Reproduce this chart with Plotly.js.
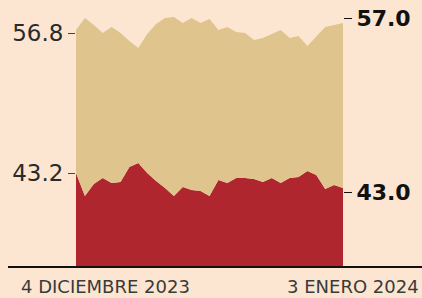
<!DOCTYPE html>
<html>
<head>
<meta charset="utf-8">
<script src="https://cdn.plot.ly/plotly-3.0.1.min.js"></script>
<style>html,body{margin:0;padding:0;background:#FCE6D2;}#chart{width:422px;height:298px;}</style>
</head>
<body>
<div id="chart"></div>
<script>
// Dates: 4 Dec 2023 .. 3 Jan 2024 (daily)
const startDate = '2023-12-04';
const endDate = '2024-01-03';
// Upper (tan) series top values as drawn
const tanValues = [57.09, 58.26, 57.58, 56.80, 57.38, 56.80, 56.02, 55.34, 56.70, 57.67,
  58.26, 58.35, 57.77, 58.26, 57.77, 58.16, 57.09, 57.38, 56.90, 56.80,
  56.12, 56.31, 56.70, 57.09, 56.31, 56.51, 55.54, 56.41, 57.38, 57.58, 57.77];
// Lower (red) series values as drawn
const redValues = [43.20, 40.97, 42.13, 42.71, 42.23, 42.33, 43.78, 44.17, 43.20, 42.42,
  41.74, 40.97, 41.84, 41.55, 41.45, 40.97, 42.52, 42.23, 42.71, 42.71,
  42.62, 42.33, 42.71, 42.23, 42.71, 42.81, 43.39, 43.01, 41.65, 42.03, 41.74];
// Tick labels
const leftTickVals = [56.8, 43.2];
const leftTickText = ['56.8', '43.2'];
const rightTickVals = [58.26, 41.35];
const rightTickText = ['57.0', '43.0'];
const startLabel = '4 DICIEMBRE 2023';
const endLabel = '3 ENERO 2024';

const dates = [];
{
  const d0 = new Date(startDate + 'T00:00:00Z');
  for (let i = 0; i < redValues.length; i++) {
    const d = new Date(d0.getTime() + i * 86400000);
    dates.push(d.toISOString().slice(0, 10));
  }
}

const BG = '#FCE6D2';
const TAN = '#DFC48D';
const RED = '#AF262E';
const yRange = [34.07, 60.01];

const traces = [
  {x: dates, y: redValues, type: 'scatter', mode: 'lines', fill: 'tozeroy',
   fillcolor: RED, line: {width: 0, color: RED}, hoverinfo: 'skip'},
  {x: dates, y: tanValues, type: 'scatter', mode: 'lines', fill: 'tonexty',
   fillcolor: TAN, line: {width: 0, color: TAN}, hoverinfo: 'skip'},
  {x: [dates[0]], y: [50], yaxis: 'y2', type: 'scatter', mode: 'markers',
   marker: {opacity: 0}, hoverinfo: 'skip'}
];

const layout = {
  width: 422, height: 298,
  margin: {l: 76, r: 79, t: 0, b: 31},
  paper_bgcolor: BG, plot_bgcolor: BG,
  showlegend: false,
  xaxis: {type: 'date', range: [startDate, endDate], showgrid: false, zeroline: false,
          showticklabels: false, ticks: '', showline: false, fixedrange: true},
  yaxis: {range: yRange, showgrid: false, zeroline: false, showline: false,
          tickmode: 'array', tickvals: leftTickVals, ticktext: leftTickText,
          ticks: 'outside', ticklen: 7, tickwidth: 1, tickcolor: '#444',
          tickfont: {family: 'DejaVu Sans', size: 23, color: '#2a2a2a'}},
  yaxis2: {range: yRange, overlaying: 'y', side: 'right', showgrid: false, zeroline: false,
           showline: false, tickmode: 'array', tickvals: rightTickVals, ticktext: rightTickText,
           ticks: 'outside', ticklen: 8, tickwidth: 1, tickcolor: '#111',
           tickfont: {family: 'DejaVu Sans', size: 22, color: '#111', weight: 'bold'}},
  shapes: [
    {type: 'line', xref: 'paper', yref: 'paper', x0: (8 - 76) / 267, x1: (422 - 76) / 267,
     y0: 0, y1: 0, line: {color: '#111', width: 2}}
  ],
  annotations: [
    {text: startLabel, xref: 'paper', yref: 'paper', x: (19 - 76) / 267, y: -0.073,
     xanchor: 'left', yanchor: 'middle', showarrow: false,
     font: {family: 'DejaVu Sans', size: 18, color: '#3a3a3a'}},
    {text: endLabel, xref: 'paper', yref: 'paper', x: (421 - 76) / 267, y: -0.073,
     xanchor: 'right', yanchor: 'middle', showarrow: false,
     font: {family: 'DejaVu Sans', size: 18, color: '#3a3a3a'}}
  ]
};

Plotly.newPlot('chart', traces, layout, {staticPlot: true, displayModeBar: false});
</script>
</body>
</html>
